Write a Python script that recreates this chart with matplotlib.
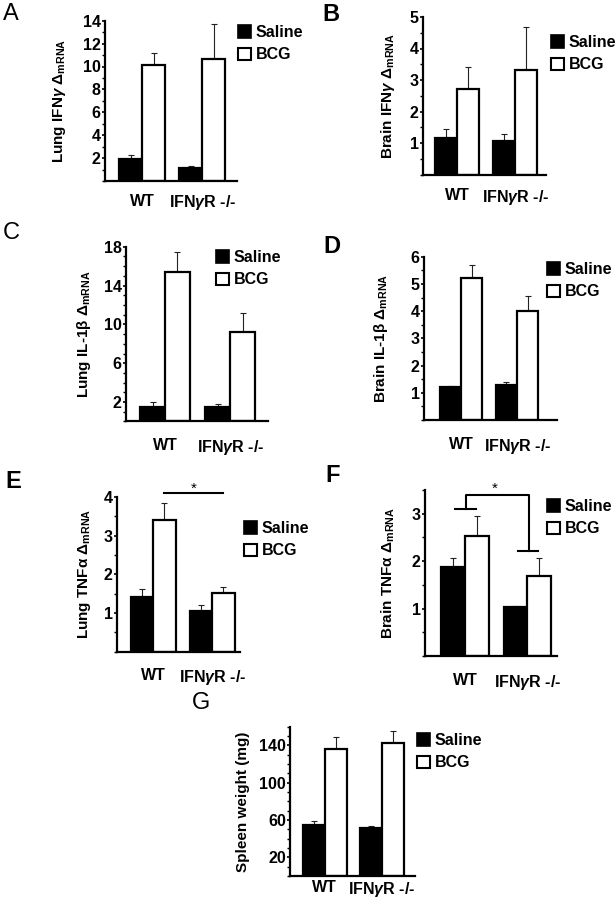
import numpy as np
import matplotlib
matplotlib.use("Agg")
import matplotlib.pyplot as plt
from matplotlib.patches import Patch
from matplotlib.ticker import MultipleLocator, FixedLocator

plt.rcParams['font.family'] = ['Liberation Sans', 'DejaVu Sans']
plt.rcParams['font.weight'] = 'bold'
plt.rcParams['mathtext.fontset'] = 'custom'
plt.rcParams['mathtext.rm'] = 'Liberation Sans:bold'
plt.rcParams['mathtext.it'] = 'Liberation Sans:italic:bold'
plt.rcParams['mathtext.bf'] = 'Liberation Sans:bold'

# data
groups = ['WT', r'IFN$\gamma$R -/-']
series = ['Saline', 'BCG']

a_saline = [1.9, 1.16]; a_saline_err = [0.37, 0.12]
a_bcg = [10.15, 10.65]; a_bcg_err = [1.05, 3.05]

b_saline = [1.17, 1.07]; b_saline_err = [0.28, 0.23]
b_bcg = [2.73, 3.32]; b_bcg_err = [0.69, 1.36]

c_saline = [1.5, 1.5]; c_saline_err = [0.5, 0.3]
c_bcg = [15.4, 9.2]; c_bcg_err = [2.1, 2.0]

d_saline = [1.2, 1.3]; d_saline_err = [0.04, 0.1]
d_bcg = [5.2, 4.02]; d_bcg_err = [0.5, 0.53]

e_saline = [1.42, 1.05]; e_saline_err = [0.2, 0.17]
e_bcg = [3.4, 1.52]; e_bcg_err = [0.45, 0.16]

f_saline = [1.88, 1.03]; f_saline_err = [0.19, 0.03]
f_bcg = [2.53, 1.68]; f_bcg_err = [0.42, 0.38]

g_saline = [55, 51.5]; g_saline_err = [4, 2.2]
g_bcg = [136, 143]; g_bcg_err = [13, 12]

W, H = 615, 899
fig = plt.figure(figsize=(W / 100, H / 100), dpi=100)


def px_axes(left, right, top, bottom):
    return [left / W, 1 - bottom / H, (right - left) / W, (bottom - top) / H]


def panel(letter, letter_xy, letter_w, box, xlim, ylim, ticks, minor, sal, sal_err, bcg, bcg_err,
          ylabel, label_x, xpad, leg_xy):
    ax = fig.add_axes(px_axes(*box))
    x = np.arange(len(groups))
    w = 0.38
    ax.bar(x - w / 2, sal, w, color='black', edgecolor='black', linewidth=1.6, zorder=2)
    ax.bar(x + w / 2, bcg, w, color='white', edgecolor='black', linewidth=1.6, zorder=2)
    ax.errorbar(x - w / 2, sal, yerr=[np.zeros(2), sal_err], fmt='none', ecolor='#222222',
                elinewidth=0.8, capsize=2.5, capthick=0.8, zorder=1)
    ax.errorbar(x + w / 2, bcg, yerr=[np.zeros(2), bcg_err], fmt='none', ecolor='#222222',
                elinewidth=0.8, capsize=2.5, capthick=0.8, zorder=1)
    ax.set_xlim(*xlim)
    ax.set_ylim(*ylim)
    ax.yaxis.set_major_locator(FixedLocator(ticks))
    ax.yaxis.set_minor_locator(MultipleLocator(minor))
    ax.set_xticks(x)
    ax.set_xticklabels(groups)
    for s in ['top', 'right']:
        ax.spines[s].set_visible(False)
    for s in ['left', 'bottom']:
        ax.spines[s].set_linewidth(1.6)
    ax.tick_params(axis='y', which='major', length=2.5, width=1.2, pad=0.5, labelsize=11.5)
    ax.tick_params(axis='y', which='minor', length=2, width=1)
    ax.tick_params(axis='x', which='major', length=0, pad=xpad, labelsize=11.5)
    for t in ax.get_yticklabels() + ax.get_xticklabels():
        t.set_fontweight('bold')
    ax.set_ylabel(ylabel, fontsize=11, fontweight='bold')
    ax.yaxis.set_label_coords(label_x, 0.5)
    handles = [Patch(facecolor='black', edgecolor='black', linewidth=1.2),
               Patch(facecolor='white', edgecolor='black', linewidth=1.5)]
    fig.legend(handles, series, loc='upper left',
               bbox_to_anchor=(leg_xy[0] / W, 1 - leg_xy[1] / H),
               frameon=False, borderpad=0, borderaxespad=0, handlelength=0.8,
               handleheight=0.8, handletextpad=0.3, labelspacing=0.45,
               prop={'size': 11.5, 'weight': 'bold'})
    fig.text(letter_xy[0] / W, 1 - letter_xy[1] / H, letter, fontsize=17,
             fontweight=letter_w, va='top', ha='left')
    return ax


panel('A', (3, 3), 'normal', (105, 237, 20.7, 181), (-0.62, 1.58), (0, 14),
      [2, 4, 6, 8, 10, 12, 14], 1,
      a_saline, a_saline_err, a_bcg, a_bcg_err,
      r'Lung IFN$\gamma$ Δ$_{\mathrm{mRNA}}$', -0.278, 9, (238, 25))
panel('B', (322, 3), 'bold', (423, 546, 17, 174.5), (-0.59, 1.53), (0, 5), [1, 2, 3, 4, 5], 0.5,
      b_saline, b_saline_err, b_bcg, b_bcg_err,
      r'Brain IFN$\gamma$ Δ$_{\mathrm{mRNA}}$', -0.211, 9.5, (551, 35))
panel('C', (3, 222), 'normal', (126, 268, 246.7, 421.5), (-0.6, 1.58), (0, 18),
      [2, 6, 10, 14, 18], 1,
      c_saline, c_saline_err, c_bcg, c_bcg_err,
      'Lung IL-1β Δ$_{\mathrm{mRNA}}$', -0.232, 12, (216, 250))
panel('D', (323, 235), 'bold', (424, 557, 256.7, 420), (-0.66, 1.71), (0, 6),
      [1, 2, 3, 4, 5, 6], 0.5,
      d_saline, d_saline_err, d_bcg, d_bcg_err,
      'Brain IL-1β Δ$_{\mathrm{mRNA}}$', -0.256, 12, (547, 262))
ax_e = panel('E', (5, 470), 'bold', (117, 240, 497, 651.7), (-0.61, 1.47), (0, 4),
             [1, 2, 3, 4], 0.5,
             e_saline, e_saline_err, e_bcg, e_bcg_err,
             'Lung TNFα Δ$_{\mathrm{mRNA}}$', -0.195, 12, (244, 521))
ax_f = panel('F', (325, 464), 'bold', (425, 557, 490, 656), (-0.645, 1.48), (0, 3.5),
             [1, 2, 3], 0.5,
             f_saline, f_saline_err, f_bcg, f_bcg_err,
             'Brain TNFα Δ$_{\mathrm{mRNA}}$', -0.212, 12, (547, 499))
panel('G', (192, 692), 'normal', (290, 415, 726.7, 876), (-0.61, 1.58), (0, 160),
      [20, 60, 100, 140], 10,
      g_saline, g_saline_err, g_bcg, g_bcg_err,
      'Spleen weight (mg)', -0.32, 3, (417, 733))

# significance marks
ax_e.plot([0.19, 1.19], [4.11, 4.11], color='black', lw=1.5, clip_on=False)
ax_e.text(0.68, 4.2, '*', ha='center', va='center', fontsize=11, fontweight='normal')

fx = [-0.16, 0.18, None, 0.016, 0.016, 1.03, 1.03, None, 0.85, 1.18]
fy = [3.10, 3.10, None, 3.10, 3.40, 3.40, 2.22, None, 2.22, 2.22]
ax_f.plot([np.nan if v is None else v for v in fx], [np.nan if v is None else v for v in fy],
          color='black', lw=1.5, clip_on=False)
ax_f.text(0.48, 3.52, '*', ha='center', va='center', fontsize=11, fontweight='normal')

plt.savefig('out.png', dpi=100)
